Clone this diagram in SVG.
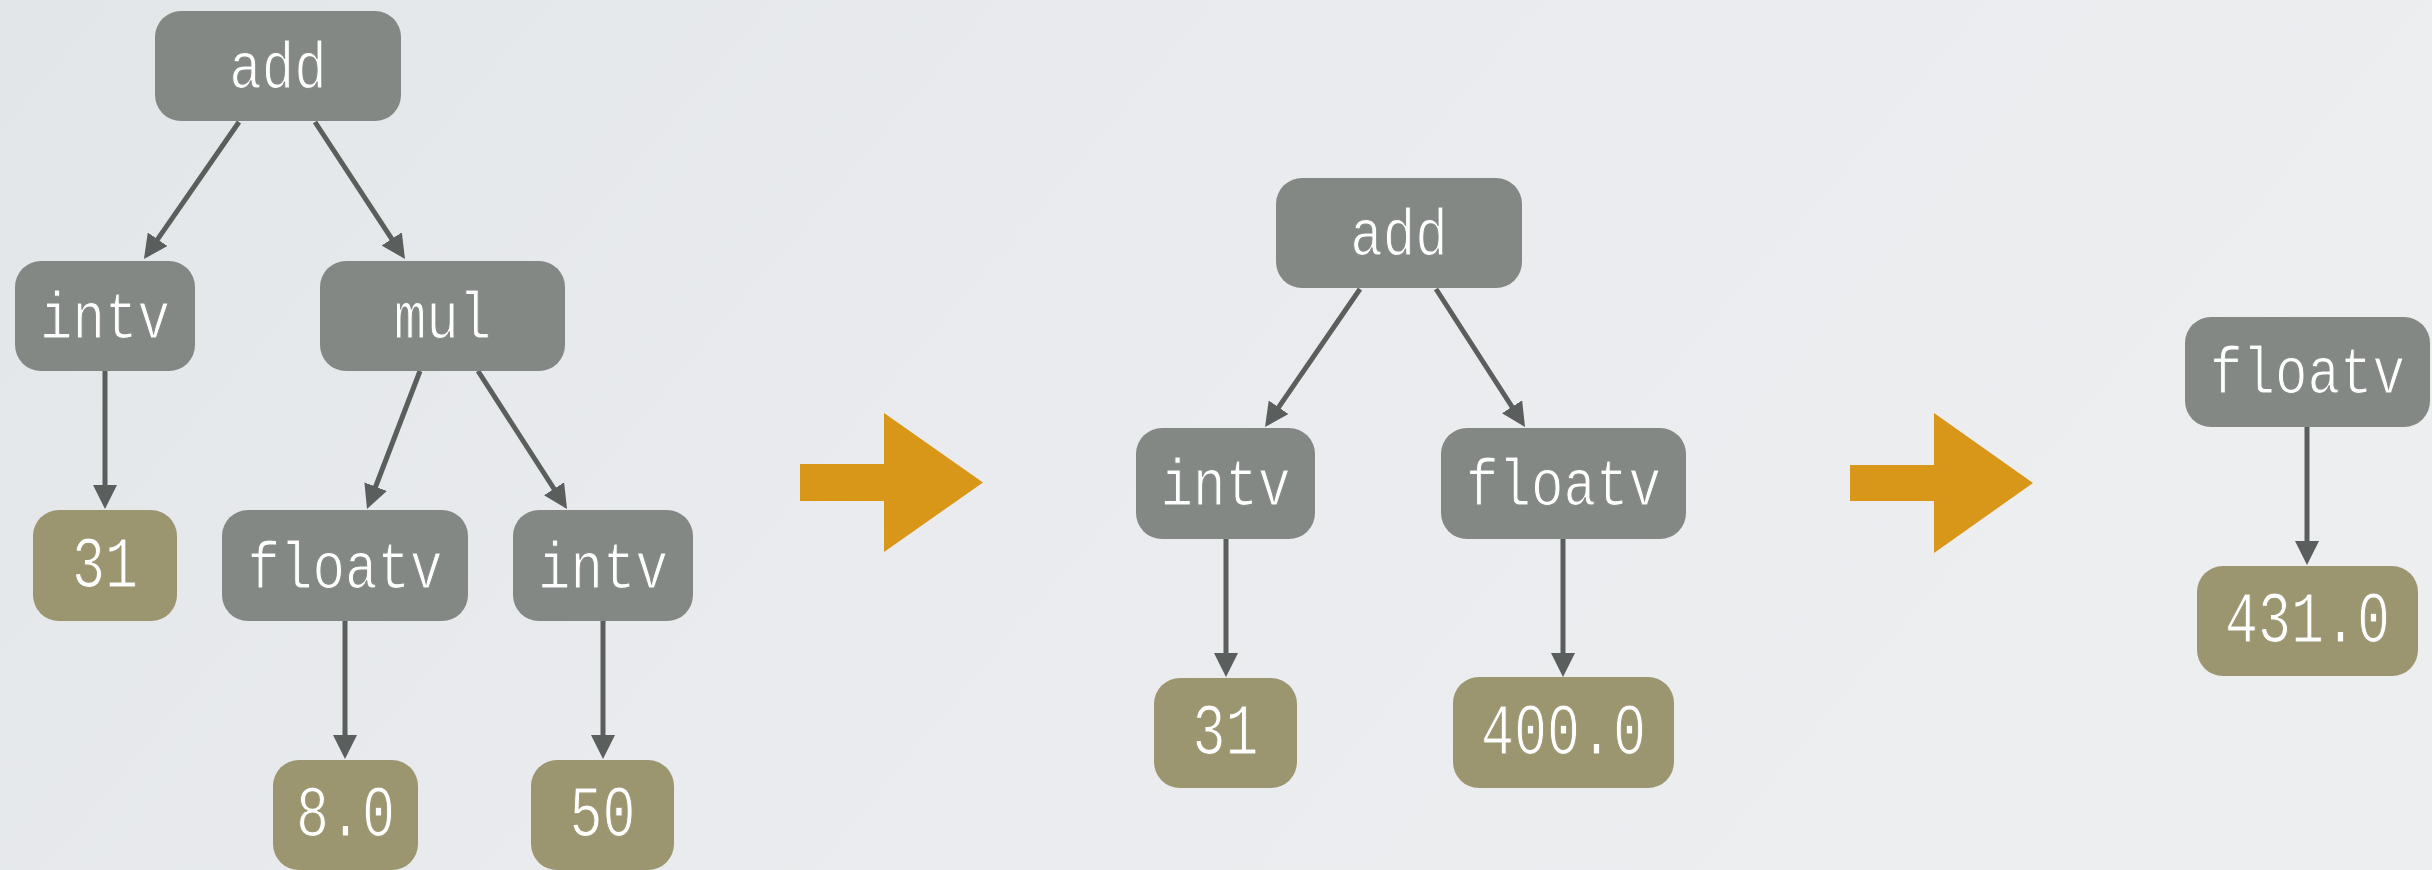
<svg xmlns="http://www.w3.org/2000/svg" width="2432" height="870" viewBox="0 0 2432 870">
  <defs>
    <linearGradient id="bg" x1="0" y1="0" x2="1" y2="0.3">
      <stop offset="0" stop-color="#e3e6e9"/>
      <stop offset="0.5" stop-color="#e9ebee"/>
      <stop offset="1" stop-color="#eceef0"/>
    </linearGradient>
    <marker id="head" viewBox="0 0 24 24" refX="2" refY="12" markerWidth="24" markerHeight="24" markerUnits="userSpaceOnUse" orient="auto">
      <path d="M0,0 L24,12 L0,24 z" fill="#5a5e5c"/>
    </marker>
    <style>
      .op rect { fill: #838885; }
      .val rect { fill: #9b9670; }
      .op text, .val text { fill: #ffffff; font-family: "Liberation Mono", "DejaVu Sans Mono", monospace; text-anchor: middle; stroke-width: 1.2px; }
      .op text { font-size: 66px; stroke: #838885; }
      .val text { font-size: 72px; stroke: #9b9670; }
      .edge { stroke: #5a5e5c; stroke-width: 5; fill: none; marker-end: url(#head); }
      .step { fill: #d99719; }
    </style>
  </defs>

  <rect width="2432" height="870" fill="url(#bg)"/>

  <!-- edges -->
  <g id="connectors">
    <line class="edge" x1="239" y1="122" x2="156.5" y2="240.9"/>
    <line class="edge" x1="315" y1="122" x2="392.9" y2="240.6"/>
    <line class="edge" x1="105" y1="371" x2="105" y2="487"/>
    <line class="edge" x1="420" y1="371" x2="374.9" y2="488.5"/>
    <line class="edge" x1="478" y1="371" x2="555.1" y2="490.5"/>
    <line class="edge" x1="345" y1="621" x2="345" y2="737"/>
    <line class="edge" x1="603" y1="621" x2="603" y2="737"/>

    <line class="edge" x1="1360" y1="289" x2="1277.5" y2="408.9"/>
    <line class="edge" x1="1436" y1="289" x2="1513.1" y2="408.5"/>
    <line class="edge" x1="1226" y1="539" x2="1226" y2="655"/>
    <line class="edge" x1="1563" y1="539" x2="1563" y2="655"/>

    <line class="edge" x1="2307" y1="427" x2="2307" y2="543"/>
  </g>

  <!-- rewrite steps -->
  <g id="steps">
    <polygon class="step" points="800,464 884,464 884,413 983,482.5 884,552 884,501 800,501"/>
    <polygon class="step" points="1850,465 1934,465 1934,413 2033,483 1934,553 1934,501 1850,501"/>
  </g>

  <!-- first tree -->
  <g id="t1-add" class="op">
    <rect x="155" y="11" width="246" height="110" rx="26"/>
    <text x="278" y="88" textLength="97.5" lengthAdjust="spacingAndGlyphs">add</text>
  </g>
  <g id="t1-intv-a" class="op">
    <rect x="15" y="261" width="180" height="110" rx="26"/>
    <text x="105" y="338" textLength="130" lengthAdjust="spacingAndGlyphs">intv</text>
  </g>
  <g id="t1-mul" class="op">
    <rect x="320" y="261" width="245" height="110" rx="26"/>
    <text x="442.5" y="338" textLength="97.5" lengthAdjust="spacingAndGlyphs">mul</text>
  </g>
  <g id="t1-31" class="val">
    <rect x="33" y="510" width="144" height="111" rx="26"/>
    <text x="105" y="587" textLength="66" lengthAdjust="spacingAndGlyphs">31</text>
  </g>
  <g id="t1-floatv" class="op">
    <rect x="222" y="510" width="246" height="111" rx="26"/>
    <text x="345" y="588" textLength="195" lengthAdjust="spacingAndGlyphs">floatv</text>
  </g>
  <g id="t1-intv-b" class="op">
    <rect x="513" y="510" width="180" height="111" rx="26"/>
    <text x="603" y="588" textLength="130" lengthAdjust="spacingAndGlyphs">intv</text>
  </g>
  <g id="t1-8" class="val">
    <rect x="273" y="760" width="145" height="110" rx="26"/>
    <text x="345.5" y="836" textLength="99" lengthAdjust="spacingAndGlyphs">8.0</text>
  </g>
  <g id="t1-50" class="val">
    <rect x="531" y="760" width="143" height="110" rx="26"/>
    <text x="602.5" y="836" textLength="66" lengthAdjust="spacingAndGlyphs">50</text>
  </g>

  <!-- second tree -->
  <g id="t2-add" class="op">
    <rect x="1276" y="178" width="246" height="110" rx="26"/>
    <text x="1399" y="255" textLength="97.5" lengthAdjust="spacingAndGlyphs">add</text>
  </g>
  <g id="t2-intv" class="op">
    <rect x="1136" y="428" width="179" height="111" rx="26"/>
    <text x="1225.5" y="505" textLength="130" lengthAdjust="spacingAndGlyphs">intv</text>
  </g>
  <g id="t2-floatv" class="op">
    <rect x="1441" y="428" width="245" height="111" rx="26"/>
    <text x="1563.5" y="505" textLength="195" lengthAdjust="spacingAndGlyphs">floatv</text>
  </g>
  <g id="t2-31" class="val">
    <rect x="1154" y="678" width="143" height="110" rx="26"/>
    <text x="1225.5" y="754" textLength="66" lengthAdjust="spacingAndGlyphs">31</text>
  </g>
  <g id="t2-400" class="val">
    <rect x="1453" y="677" width="221" height="111" rx="26"/>
    <text x="1563.5" y="754" textLength="165" lengthAdjust="spacingAndGlyphs">400.0</text>
  </g>

  <!-- third tree -->
  <g id="t3-floatv" class="op">
    <rect x="2185" y="317" width="245" height="110" rx="26"/>
    <text x="2307.5" y="393" textLength="195" lengthAdjust="spacingAndGlyphs">floatv</text>
  </g>
  <g id="t3-431" class="val">
    <rect x="2197" y="566" width="221" height="110" rx="26"/>
    <text x="2307.5" y="642" textLength="165" lengthAdjust="spacingAndGlyphs">431.0</text>
  </g>
</svg>
